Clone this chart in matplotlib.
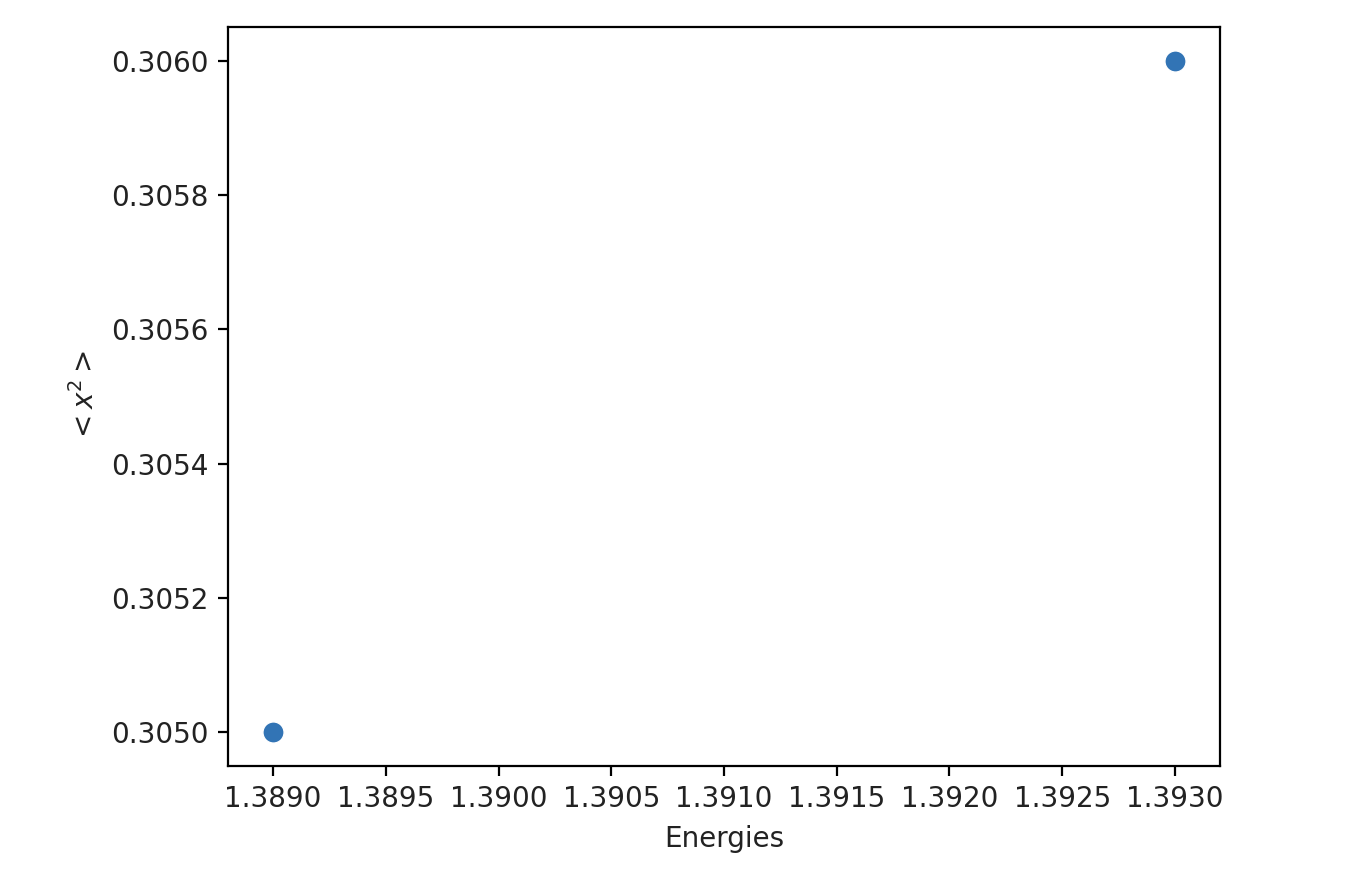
import matplotlib.pyplot as plt

energies = [1.389, 1.393]
x2_means = [0.3050, 0.3060]

fig = plt.figure(figsize=(6.755, 4.42), dpi=200)
ax = fig.add_axes([0.1688, 0.1335, 0.7342, 0.836])
ax.scatter(energies, x2_means, color='#3274b5', s=58, edgecolor='white', linewidth=0.5)
ax.set_xlabel('Energies', color='#222222')
ax.set_ylabel(r'$<x^2>$', color='#222222')
ax.tick_params(labelcolor='#222222')
ax.ticklabel_format(useOffset=False)
ax.set_xticks([1.389, 1.3895, 1.39, 1.3905, 1.391, 1.3915, 1.392, 1.3925, 1.393])
ax.set_xticklabels(['%.4f' % t for t in ax.get_xticks()])
ax.set_yticks([0.305, 0.3052, 0.3054, 0.3056, 0.3058, 0.306])
ax.set_yticklabels(['%.4f' % t for t in ax.get_yticks()])
plt.savefig('out.png')
